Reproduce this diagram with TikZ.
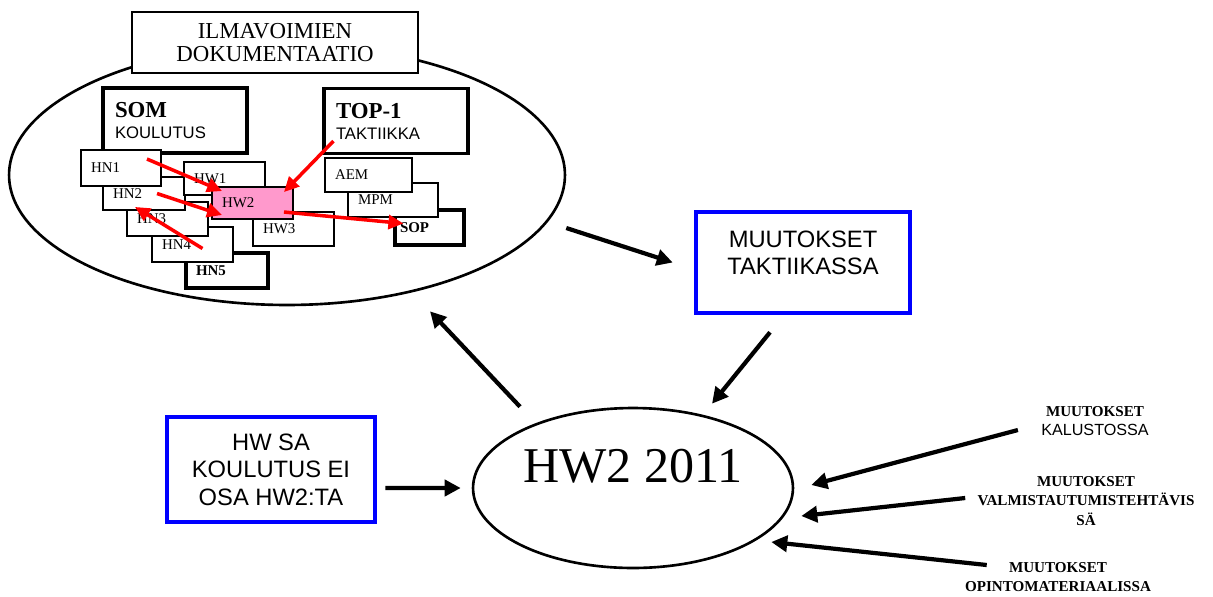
\documentclass[tikz,border=0pt]{standalone}
\usepackage{fontspec}
\setmainfont{Liberation Serif}
\setsansfont{Liberation Sans}
\usetikzlibrary{shapes.geometric,arrows.meta}

\definecolor{hwpink}{RGB}{255,153,204}

\tikzset{
  oval/.style={draw, ellipse, line width=1.5pt, inner sep=0pt},
  titlebox/.style={draw, fill=white, line width=1.2pt, align=center, minimum width=5.72cm, minimum height=1.22cm, font=\fontsize{13}{13.6}\selectfont},
  docbox/.style={draw, fill=white, line width=1.8pt, align=left, inner xsep=0.24cm, text width=2.4cm, minimum height=1.3cm},
  smallbox/.style={draw, fill=white, line width=1.1pt, align=left, inner xsep=0.2cm, inner ysep=0pt, text width=1.22cm, minimum height=0.68cm, font=\fontsize{8.5}{9}\selectfont},
  bluebox/.style={draw=blue, fill=white, line width=2.6pt, align=center, font=\sffamily\fontsize{13.5}{15.6}\selectfont},
  sidetext/.style={align=center, inner sep=0pt, font=\bfseries\fontsize{8.6}{11.3}\selectfont},
  redarrow/.style={draw=red, line width=2pt, -{Triangle[length=0.3cm,width=0.28cm]}},
  blackarrow/.style={line width=2.4pt, -{Triangle[length=0.32cm,width=0.32cm]}},
}

\begin{document}
\begin{tikzpicture}[x=0.02cm, y=-0.02cm]

            \useasboundingbox (0,0) rectangle (1213,596);

            % ilmavoimien dokumentaatio
            \node (bigell) [oval, minimum width=11.12cm, minimum height=5.2cm] at (287,175) {};
            \node (ilma) [titlebox] at (275,42.5) {ILMAVOIMIEN\\DOKUMENTAATIO};

            \node (som) [docbox] at (175,120.5) {{\fontsize{13}{14}\selectfont\bfseries SOM}\\{\sffamily\fontsize{9.5}{11}\selectfont KOULUTUS}};
            \node (top1) [docbox, minimum width=2.84cm] at (396,121) {{\fontsize{13}{14}\selectfont\bfseries TOP-1}\\{\sffamily\fontsize{9.5}{11}\selectfont TAKTIIKKA}};

            \node (hn5) [smallbox, line width=1.8pt, text width=1.24cm, minimum height=0.7cm] at (227,270.5) {\bfseries HN5};
            \node (hn4) [smallbox, minimum height=0.7cm] at (192.5,244.5) {HN4};
            \node (hn3) [smallbox] at (167.5,219) {HN3};
            \node (hn2) [smallbox, text width=1.24cm, minimum height=0.66cm] at (144,193.5) {HN2};
            \node (hn1) [smallbox, text width=1.2cm, minimum height=0.72cm] at (121,168) {HN1};

            \node (hw3) [smallbox] at (293.5,229) {HW3};
            \node (hw1) [smallbox, minimum height=0.66cm] at (224.5,178.5) {HW1};
            \node (hw2) [smallbox, fill=hwpink, minimum height=0.64cm] at (252.5,203) {HW2};

            \node (sop) [smallbox, line width=1.8pt, inner xsep=0.1cm, text width=1.18cm, minimum height=0.7cm] at (429.5,227.5) {\bfseries SOP};
            \node (mpm) [smallbox, text width=1.4cm] at (393,200) {MPM};
            \node (aem) [smallbox, text width=1.34cm] at (368.5,175) {AEM};

            \draw[redarrow] ([shift={(-15,-9)}]hn1.east) -- ([shift={(11,5)}]hw2.north west);
            \draw[redarrow] ([shift={(13,0)}]hn2.center) -- ([shift={(11,12)}]hw2.west);
            \draw[redarrow] ([shift={(10,4)}]hn4.center) -- ([shift={(-9,-4)}]hn2.south);
            \draw[redarrow] ([shift={(11,-14)}]top1.south west) -- ([shift={(-10,6)}]hw2.north east);
            \draw[redarrow] ([shift={(-10,9)}]hw2.east) -- ([shift={(10,-4)}]sop.west);

            % muutokset
            \node (takt) [bluebox, minimum width=4.28cm, minimum height=2.02cm,
                label={[anchor=north, yshift=-0.3cm, align=center, font=\sffamily\fontsize{13.5}{15.3}\selectfont]north:MUUTOKSET\\TAKTIIKASSA}] at (803,262.5) {};
            \node (hwsa) [bluebox, minimum width=4.16cm, minimum height=2.1cm] at (271,469.5) {HW SA\\KOULUTUS EI\\OSA HW2:TA};

            \node (hw2011) [oval, minimum width=6.4cm, minimum height=3.2cm,
                label={[font=\fontsize{28.5}{30}\selectfont, yshift=0.44cm]center:HW2 2011}] at (633,488) {};

            \node (kal) [sidetext] at (1095,421) {MUUTOKSET\\{\mdseries\sffamily\fontsize{9.2}{11.3}\selectfont KALUSTOSSA}};
            \node (valm) [sidetext] at (1086,501) {MUUTOKSET\\VALMISTAUTUMISTEHTÄVIS\\SÄ};
            \node (opin) [sidetext] at (1058,577) {MUUTOKSET\\OPINTOMATERIAALISSA};

            \draw[blackarrow] ([shift={(0,53)}]bigell.east) -- ([shift={(-21,0)}]takt.west);
            \draw[blackarrow] ([shift={(-33,17)}]takt.south) -- ([shift={(79,-3)}]hw2011.north);
            \draw[blackarrow] ([shift={(-113,0)}]hw2011.north) -- ([shift={(143,5)}]bigell.south);
            \draw[blackarrow] ([shift={(8,18.5)}]hwsa.east) -- ([shift={(-11,0)}]hw2011.west);
            \draw[blackarrow] ([shift={(-23,9)}]kal.west) -- ([shift={(17,-3)}]hw2011.east);
            \draw[blackarrow] ([shift={(-12,-3)}]valm.west) -- ([shift={(7,28)}]hw2011.east);
            \draw[blackarrow] ([shift={(22,-12)}]opin.west) -- ([shift={(-23,54)}]hw2011.east);

        \end{tikzpicture}
\end{document}
